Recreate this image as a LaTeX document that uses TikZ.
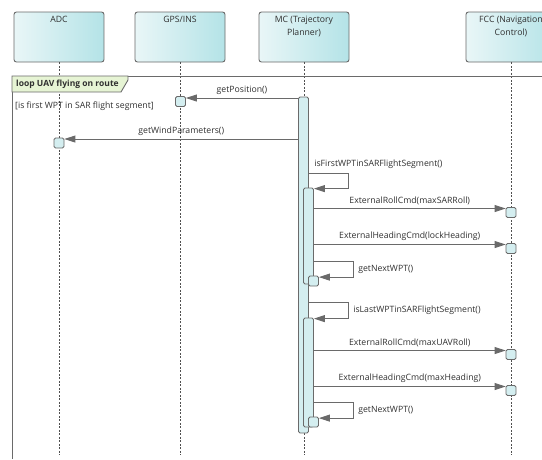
\documentclass[tikz,border=0pt]{standalone}
\usepackage{fontspec}
\setmainfont{Open Sans}
\usetikzlibrary{arrows.meta,calc}
\definecolor{edge}{HTML}{6A6A6A}
\definecolor{dash}{HTML}{505050}
\definecolor{headL}{HTML}{E9F6F7}
\definecolor{headR}{HTML}{B4E3E7}
\definecolor{actfill}{HTML}{D4EEF0}
\definecolor{loopfill}{HTML}{E6F4D4}
\definecolor{ink}{HTML}{303030}
\begin{document}
\begin{tikzpicture}[x=1pt,y=-1pt,
  font=\fontsize{8.7}{13}\selectfont, text=ink,
  head/.style={draw=edge, line width=0.9pt, rounded corners=2.5pt,
    left color=headL, right color=headR,
    minimum width=90pt, minimum height=50pt, inner sep=0pt},
  headtext/.style={anchor=north, align=center, inner sep=0pt, yshift=-4.5pt},
  lifeline/.style={draw=dash, dash pattern=on 2pt off 1.5pt, line width=0.75pt},
  act/.style={draw=edge, fill=actfill, rounded corners=1.5pt, line width=0.8pt,
    minimum width=10pt, inner sep=0pt},
  msg/.style={draw=edge, line width=0.9pt, -{Triangle[length=11pt,width=7pt]}},
  msglabel/.style={above, inner sep=2pt, yshift=1pt, text=ink},
  framebox/.style={draw=edge, line width=0.9pt}
]
\useasboundingbox (0,0) rectangle (542,459);

% lifeline heads
\node[head] (adc) at (59,37) {};
\node[head] (gps) at (180,37) {};
\node[head] (mc)  at (304,37) {};
\node[head] (fcc) at (511,37) {};
\node[headtext] (adct) at (adc.north) {ADC};
\node[headtext] (gpst) at (gps.north) {GPS/INS};
\node[headtext] (mct)  at (mc.north)  {MC (Trajectory\\Planner)};
\node[headtext] (fcct) at (fcc.north) {FCC (Navigation\\Control)};

% lifelines
\coordinate (bottom) at (0,455);
\draw[lifeline] (adc.south) -- (adc.south |- bottom);
\draw[lifeline] (gps.south) -- (gps.south |- bottom);
\draw[lifeline] (mc.south)  -- (mc.south |- bottom);
\draw[lifeline] (fcc.south) -- (fcc.south |- bottom);

% loop frame
\coordinate (frTL) at (12,76);
\coordinate (frTR) at (542,76);
\coordinate (frBL) at (12,459);
\draw[framebox] (frBL) -- (frTL) -- (frTR);
\draw[framebox, fill=loopfill] (frTL) -- (128,76) -- (128,80) -- (121,92) -- (12,92) -- cycle;
\node[anchor=west, inner sep=0pt, font=\fontsize{8.5}{10}\selectfont\bfseries] (looplbl) at (16,84) {loop UAV flying on route};
\node[anchor=west, inner sep=0pt] (guard) at (15,106) {[is first WPT in SAR flight segment]};

% activations
\node[act, minimum height=336pt] (mcbar) at (303.5,265) {};
\node[act, minimum height=10pt] (gpsact) at (180.5,101.5) {};
\node[act, minimum height=10pt] (adcact) at (59,143) {};
\node[act, minimum height=96pt] (nb1) at (308.5,236) {};
\node[act, minimum height=109pt] (nb2) at (308.5,372.5) {};
\node[act, minimum height=10pt] (f1) at (511,212.5) {};
\node[act, minimum height=10pt] (f2) at (511,248.5) {};
\node[act, minimum height=10pt] (f3) at (511,354.5) {};
\node[act, minimum height=10pt] (f4) at (511,390.5) {};
\node[act, minimum height=10pt] (sb1) at (313.5,281) {};
\node[act, minimum height=10pt] (sb2) at (313.5,422) {};

% message heights
\coordinate (m1) at (0,98);
\coordinate (m2) at (0,139);
\coordinate (m3) at (0,208.5);
\coordinate (m4) at (0,244.5);
\coordinate (m5) at (0,350.5);
\coordinate (m6) at (0,386.5);
\coordinate (s1) at (0,173);
\coordinate (s2) at (0,261);
\coordinate (s3) at (0,302);
\coordinate (s4) at (0,402);

% messages
\draw[msg] (mcbar.west |- m1) -- node[msglabel] {getPosition()} (gpsact.east |- m1);
\draw[msg] (mcbar.west |- m2) -- node[msglabel] {getWindParameters()} (adcact.east |- m2);

\draw[msg] (mcbar.east |- s1)
  node[anchor=south west, inner sep=1pt, xshift=4pt, yshift=3pt] {isFirstWPTinSARFlightSegment()}
  -- ++(40,0) |- ([yshift=-1pt]nb1.north east);
\draw[msg] (nb1.east |- m3) -- node[msglabel] {ExternalRollCmd(maxSARRoll)} (f1.west |- m3);
\draw[msg] (nb1.east |- m4) -- node[msglabel] {ExternalHeadingCmd(lockHeading)} (f2.west |- m4);
\draw[msg] (nb1.east |- s2) -- ++(40,0) |- node[right, pos=0.25, inner sep=4pt] {getNextWPT()} ([yshift=-1.5pt]sb1.north east);

\draw[msg] (mcbar.east |- s3) -- ++(40,0) |- node[right, pos=0.25, inner sep=4pt] {isLastWPTinSARFlightSegment()} ([yshift=-1pt]nb2.north east);
\draw[msg] (nb2.east |- m5) -- node[msglabel] {ExternalRollCmd(maxUAVRoll)} (f3.west |- m5);
\draw[msg] (nb2.east |- m6) -- node[msglabel] {ExternalHeadingCmd(maxHeading)} (f4.west |- m6);
\draw[msg] (nb2.east |- s4) -- ++(40,0) |- node[right, pos=0.25, inner sep=4pt] {getNextWPT()} ([yshift=-1.5pt]sb2.north east);
\end{tikzpicture}
\end{document}
